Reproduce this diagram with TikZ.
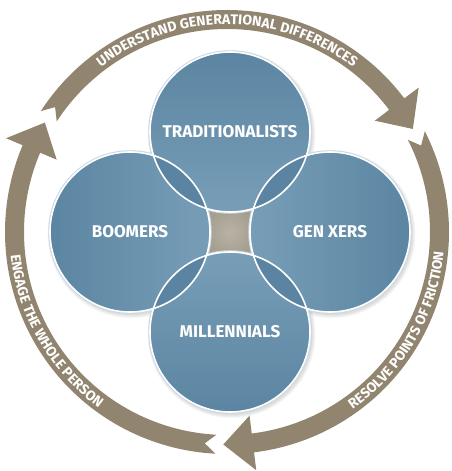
\documentclass[tikz,border=0pt]{standalone}
\usepackage{fontspec}
\usepackage{color}
\usetikzlibrary{decorations.text}

\newfontfamily\labelfont{Fira Sans}
\newcommand{\arcfont}{\labelfont\bfseries\fontsize{14}{16}\selectfont}

\definecolor{taupe}{HTML}{928570}
\definecolor{darkblue}{HTML}{5B85A2}
\definecolor{lightblue}{HTML}{789EB7}
\definecolor{lensblue}{HTML}{5A84A1}
\definecolor{rimblue}{HTML}{C8D8E4}
\definecolor{centre}{HTML}{ADA696}

\begin{document}
\begin{tikzpicture}[x=1pt, y=1pt,
  gen/.style={font=\labelfont\bfseries\fontsize{17}{19}\selectfont, text=white}]

\useasboundingbox (-227,-239) rectangle (224,232);

\pgfmathsetmacro{\ri}{203}
\pgfmathsetmacro{\ro}{222}
\pgfmathsetmacro{\rc}{80}
	\coordinate (O) at (0, 0);
	\coordinate (mid) at (3, 0);
	\coordinate (trad) at (3, 100);
	\coordinate (boom) at (-97, 0);
	\coordinate (genx) at (103, 0);
	\coordinate (mill) at (3, -100);

	% Draw the three curved arrows
	\foreach \t in {147, 27, -93} {
		\fill[taupe] (\t:\ro) arc[start angle=\t, end angle=\t-110, radius=\ro]
			-- ({\t-110}:240) -- ({\t-118}:212.5) -- ({\t-110}:185)
			-- ({\t-110}:\ri) arc[start angle=\t-110, end angle=\t, radius=\ri]
			-- ({\t-3}:212.5) -- cycle;
	}

	% Text along the arrows
	\path[decorate, decoration={text along path, text align=center, text color=white,
		text={|\arcfont|UNDERSTAND GENERATIONAL DIFFERENCES}}]
		(150:207.5) arc[start angle=150, end angle=30, radius=207.5];
	\path[decorate, decoration={text along path, text align=center, text color=white,
		text={|\arcfont|RESOLVE POINTS OF FRICTION}}]
		(-90:217.5) arc[start angle=-90, end angle=30, radius=217.5];
	\path[decorate, decoration={text along path, text align=center, text color=white,
		text={|\arcfont|ENGAGE THE WHOLE PERSON}}]
		(150:217.5) arc[start angle=150, end angle=270, radius=217.5];

	% Soft shadow under the circles
	\foreach \c in {trad, boom, genx, mill}
		\foreach \s in {1,...,4}
			\fill[black, opacity=0.035] ([shift={(1.5,-2)}]\c) circle (\rc+\s);

	% Little square in the middle
	\shade[inner color=centre!85!white, outer color=centre!95!black]
		([shift={(-25,-25)}]mid) rectangle ([shift={(25,25)}]mid);

	% Draw the four circles
	\foreach \c in {trad, boom, genx, mill}
		\draw[rimblue, line width=3.5pt] (\c) circle (\rc);
	\shade[top color=darkblue, bottom color=lightblue] (trad) circle (\rc);
	\shade[left color=darkblue, right color=lightblue] (boom) circle (\rc);
	\shade[left color=lightblue, right color=darkblue] (genx) circle (\rc);
	\shade[top color=lightblue, bottom color=darkblue] (mill) circle (\rc);

	% Overlaps are a bit darker
	\foreach \a/\b in {trad/boom, trad/genx, mill/boom, mill/genx} {
		\begin{scope}
			\clip (\a) circle (\rc);
			\fill[lensblue] (\b) circle (\rc);
		\end{scope}
	}
	\foreach \c in {trad, boom, genx, mill}
		\draw[white, line width=1.6pt] (\c) circle (\rc);

	\node[gen] (tradlabel) at (trad) {TRADITIONALISTS};
	\node[gen] (boomlabel) at (boom) {BOOMERS};
	\node[gen] (genxlabel) at (genx) {GEN XERS};
	\node[gen] (milllabel) at (mill) {MILLENNIALS};

\end{tikzpicture}
\end{document}
